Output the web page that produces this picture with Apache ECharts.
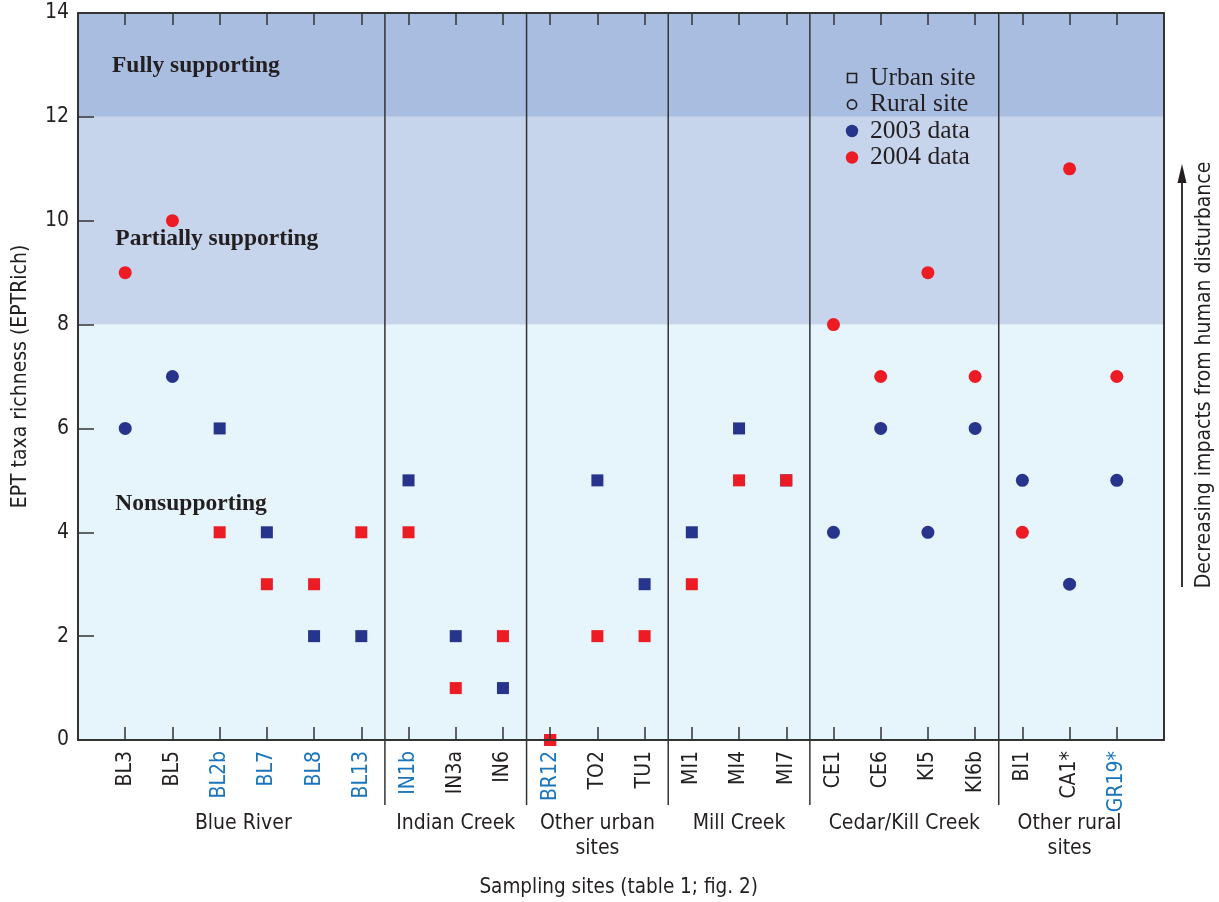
<!DOCTYPE html>
<html>
<head>
<meta charset="utf-8">
<title>EPT taxa richness by sampling site</title>
<script src="https://cdn.jsdelivr.net/npm/echarts@6/dist/echarts.min.js"></script>
<style>
  html, body { margin: 0; padding: 0; background: #ffffff; }
  #chart { width: 1219px; height: 902px; }
</style>
</head>
<body>
<div id="chart"></div>
<script>
// Sampling sites, left to right
const sites = ['BL3', 'BL5', 'BL2b', 'BL7', 'BL8', 'BL13', 'IN1b', 'IN3a', 'IN6', 'BR12', 'TO2', 'TU1',
  'MI1', 'MI4', 'MI7', 'CE1', 'CE6', 'KI5', 'KI6b', 'BI1', 'CA1*', 'GR19*'];
// U = urban site (square), R = rural site (circle)
const siteType = ['R', 'R', 'U', 'U', 'U', 'U', 'U', 'U', 'U', 'U', 'U', 'U',
  'U', 'U', 'U', 'R', 'R', 'R', 'R', 'R', 'R', 'R'];
// Site labels printed in blue
const blueSites = ['BL2b', 'BL7', 'BL8', 'BL13', 'IN1b', 'BR12', 'GR19*'];
// EPT taxa richness (EPTRich)
const ept2003 = [6, 7, 6, 4, 2, 2, 5, 2, 1, 0, 5, 3, 4, 6, 5, 4, 6, 4, 6, 5, 3, 5];
const ept2004 = [9, 10, 4, 3, 3, 4, 4, 1, 2, 0, 2, 2, 3, 5, 5, 8, 7, 9, 7, 4, 11, 7];
// Site groups: label and first/last site index
const groups = [
  { name: 'Blue River', from: 0, to: 5 },
  { name: 'Indian Creek', from: 6, to: 8 },
  { name: 'Other urban\nsites', from: 9, to: 11 },
  { name: 'Mill Creek', from: 12, to: 14 },
  { name: 'Cedar/Kill Creek', from: 15, to: 18 },
  { name: 'Other rural\nsites', from: 19, to: 21 }
];
// Aquatic-life support bands
const bands = [
  { name: 'Nonsupporting', from: 0, to: 8, labelX: 0.79, labelAt: 4.55 },
  { name: 'Partially supporting', from: 8, to: 12, labelX: 0.79, labelAt: 9.64 },
  { name: 'Fully supporting', from: 12, to: 14, labelX: 0.72, labelAt: 12.98 }
];
const yTicks = [0, 2, 4, 6, 8, 10, 12, 14];

const bandColors = ['#e6f4fc', '#c6d4ec', '#a9bde0'];
const NAVY = '#27348b';
const RED = '#ed1c24';
const INK = '#231f20';
const FRAME = '#333333';
const NARROW = "'DejaVu Sans Condensed', 'Liberation Sans Narrow', 'Roboto', sans-serif";
const SERIF = "'Liberation Serif', 'DejaVu Serif', serif";

function points(values, type) {
  const out = [];
  values.forEach((v, i) => {
    if (siteType[i] === type && v !== null) out.push([i + 1, v]);
  });
  return out;
}

const siteTicks = sites.map((s, i) => i + 1);

const chart = echarts.init(document.getElementById('chart'), null, { renderer: 'canvas' });

const scatterBase = { type: 'scatter', clip: false, silent: true, z: 5 };
const frameLine = { show: true, onZero: false, lineStyle: { color: FRAME, width: 2 } };

const option = {
  animation: false,
  backgroundColor: '#ffffff',
  grid: { left: 78, right: 55, top: 13, bottom: 162, containLabel: false },
  xAxis: [
    {
      type: 'value', position: 'bottom', min: 0, max: sites.length + 1, interval: 1, z: 10,
      axisLine: frameLine,
      axisTick: { show: true, inside: true, length: 13, customValues: siteTicks, lineStyle: { color: FRAME, width: 1.5 } },
      splitLine: { show: false },
      axisLabel: {
        show: true, rotate: 90, margin: 11, fontFamily: NARROW, fontSize: 21, color: INK,
        customValues: siteTicks,
        formatter: function (v) {
          const i = Math.round(v) - 1;
          if (i < 0 || i >= sites.length) return '';
          return blueSites.indexOf(sites[i]) >= 0 ? '{b|' + sites[i] + '}' : '{k|' + sites[i] + '}';
        },
        rich: {
          b: { color: '#1b75bb', fontFamily: NARROW, fontSize: 21 },
          k: { color: INK, fontFamily: NARROW, fontSize: 21 }
        }
      }
    },
    {
      type: 'value', position: 'top', min: 0, max: sites.length + 1, interval: 1, z: 10,
      axisLine: frameLine,
      axisTick: { show: true, inside: true, length: 12, customValues: siteTicks, lineStyle: { color: FRAME, width: 1.5 } },
      axisLabel: { show: false },
      splitLine: { show: false }
    }
  ],
  yAxis: [
    {
      type: 'value', position: 'left', min: 0, max: 14, interval: 2, z: 10,
      name: 'EPT taxa richness (EPTRich)', nameLocation: 'middle', nameGap: 47, nameRotate: 90,
      nameTextStyle: { fontFamily: NARROW, fontSize: 21, color: INK },
      axisLine: frameLine,
      axisTick: { show: true, inside: true, length: 16, lineStyle: { color: FRAME, width: 1.5 } },
      axisLabel: {
        margin: 9, fontFamily: NARROW, fontSize: 21, color: INK,
        formatter: function (v) { return yTicks.indexOf(v) >= 0 ? String(v) : ''; }
      },
      splitLine: { show: false }
    },
    {
      type: 'value', position: 'right', min: 0, max: 14, interval: 2, z: 10,
      axisLine: frameLine,
      axisTick: { show: false }, axisLabel: { show: false }, splitLine: { show: false }
    }
  ],
  series: [
    {
      type: 'scatter', data: [], silent: true, z: 1,
      markArea: {
        silent: true,
        label: { show: false },
        data: bands.map((b, i) => [
          { yAxis: b.from, xAxis: 0, itemStyle: { color: bandColors[i], borderWidth: 0, opacity: 1 } },
          { yAxis: b.to, xAxis: sites.length + 1 }
        ])
      }
    },
    Object.assign({}, scatterBase, { name: '2003 urban', symbol: 'rect', symbolSize: 12, itemStyle: { color: NAVY, opacity: 1 }, data: points(ept2003, 'U') }),
    Object.assign({}, scatterBase, { name: '2003 rural', symbol: 'circle', symbolSize: 13, itemStyle: { color: NAVY, opacity: 1 }, data: points(ept2003, 'R') }),
    Object.assign({}, scatterBase, { name: '2004 urban', symbol: 'rect', symbolSize: 12, itemStyle: { color: RED, opacity: 1 }, data: points(ept2004, 'U'), z: 6 }),
    Object.assign({}, scatterBase, { name: '2004 rural', symbol: 'circle', symbolSize: 13, itemStyle: { color: RED, opacity: 1 }, data: points(ept2004, 'R'), z: 6 })
  ]
};

chart.setOption(option);

// Annotations placed through the chart's own coordinate conversion
function px(x, y) { return chart.convertToPixel({ gridIndex: 0 }, [x, y]); }

const graphics = [];
const plotTop = px(0, 14)[1];
const plotBottom = px(0, 0)[1];

// Group separators, running from the top of the plot down through the label area
groups.slice(1).forEach(g => {
  const x = px(g.from + 0.5, 0)[0];
  graphics.push({
    type: 'line', z: 20, silent: true,
    shape: { x1: x, y1: plotTop, x2: x, y2: plotBottom + 65 },
    style: { stroke: FRAME, lineWidth: 1.5 }
  });
});

// Group names under the site labels
groups.forEach(g => {
  const cx = px((g.from + g.to) / 2 + 1, 0)[0];
  graphics.push({
    type: 'text', z: 20, silent: true, x: cx, y: plotBottom + 71,
    style: { text: g.name, fontFamily: NARROW, fontSize: 21, fill: INK, align: 'center', verticalAlign: 'top', lineHeight: 25 }
  });
});

// Axis title
graphics.push({
  type: 'text', z: 20, silent: true, x: px(11.45, 0)[0], y: plotBottom + 148,
  style: { text: 'Sampling sites (table 1; fig. 2)', fontFamily: NARROW, fontSize: 20.5, fill: INK, align: 'center', verticalAlign: 'middle' }
});

// Band names
bands.forEach(b => {
  const p = px(b.labelX, b.labelAt);
  graphics.push({
    type: 'text', z: 20, silent: true, x: p[0], y: p[1],
    style: { text: b.name, fontFamily: SERIF, fontWeight: 'bold', fontSize: 23.5, fill: INK, align: 'left', verticalAlign: 'middle' }
  });
});

// Symbol key
const keyX = 852, keyTextX = 870;
const keyRows = [
  { y: 78, label: 'Urban site', shape: 'rect-open' },
  { y: 104.5, label: 'Rural site', shape: 'circle-open' },
  { y: 131, label: '2003 data', shape: 'circle', color: NAVY },
  { y: 157.5, label: '2004 data', shape: 'circle', color: RED }
];
keyRows.forEach(r => {
  if (r.shape === 'rect-open') {
    graphics.push({ type: 'rect', z: 20, silent: true, shape: { x: keyX - 4.5, y: r.y - 4.5, width: 9, height: 9 }, style: { fill: 'none', stroke: INK, lineWidth: 1.6 } });
  } else if (r.shape === 'circle-open') {
    graphics.push({ type: 'circle', z: 20, silent: true, shape: { cx: keyX, cy: r.y, r: 4.6 }, style: { fill: 'none', stroke: INK, lineWidth: 1.6 } });
  } else {
    graphics.push({ type: 'circle', z: 20, silent: true, shape: { cx: keyX, cy: r.y, r: 6.2 }, style: { fill: r.color } });
  }
  graphics.push({
    type: 'text', z: 20, silent: true, x: keyTextX, y: r.y,
    style: { text: r.label, fontFamily: SERIF, fontSize: 25.5, fill: INK, align: 'left', verticalAlign: 'middle' }
  });
});

// Disturbance gradient arrow on the right
const arrowX = 1182;
graphics.push({
  type: 'line', z: 20, silent: true,
  shape: { x1: arrowX, y1: 587, x2: arrowX, y2: 178 },
  style: { stroke: INK, lineWidth: 1.8 }
});
graphics.push({
  type: 'polygon', z: 20, silent: true,
  shape: { points: [[arrowX, 164], [arrowX - 4.5, 183], [arrowX + 4.5, 183]] },
  style: { fill: INK }
});
graphics.push({
  type: 'text', z: 20, silent: true, x: 1205, y: 375, rotation: Math.PI / 2,
  style: { text: 'Decreasing impacts from human disturbance', fontFamily: NARROW, fontSize: 21, fill: INK, align: 'center', verticalAlign: 'middle' }
});

chart.setOption({ graphic: { elements: graphics } });
</script>
</body>
</html>
